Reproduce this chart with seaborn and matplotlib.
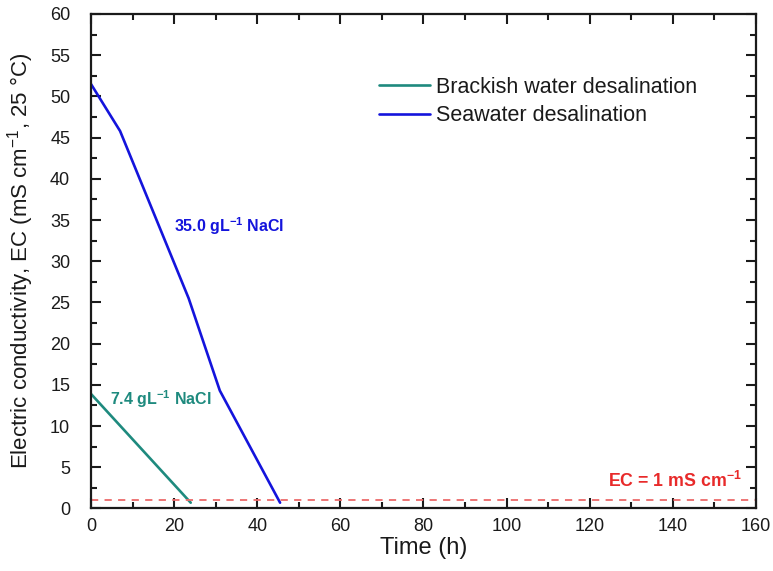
import matplotlib
matplotlib.use("Agg")
import matplotlib.pyplot as plt
from matplotlib.ticker import MultipleLocator
import pandas as pd
import seaborn as sns

# Desalination runs: conductivity over time
brackish_time = [0, 24]
brackish_ec = [13.9, 0.7]
seawater_time = [0, 7, 23.5, 31, 45.5]
seawater_ec = [51.5, 45.8, 25.5, 14.3, 0.7]
series_names = ["Brackish water desalination", "Seawater desalination"]
ec_limit = 1.0

df = pd.concat([
    pd.DataFrame({"time": brackish_time, "ec": brackish_ec, "run": series_names[0]}),
    pd.DataFrame({"time": seawater_time, "ec": seawater_ec, "run": series_names[1]}),
], ignore_index=True)

sns.set_theme(style="ticks")
plt.rcParams["font.family"] = ["Liberation Sans", "DejaVu Sans"]
plt.rcParams["mathtext.fontset"] = "custom"
plt.rcParams["mathtext.rm"] = "Liberation Sans"
plt.rcParams["mathtext.bf"] = "Liberation Sans:bold"

fig = plt.figure(figsize=(7.73, 5.71), dpi=100)
ax = fig.add_axes([0.1177, 0.1095, 0.8603, 0.8660])

teal = "#1e8a7e"
blue = "#1414dc"
palette = {series_names[0]: teal, series_names[1]: blue}
sns.lineplot(data=df, x="time", y="ec", hue="run", palette=palette,
             linewidth=1.9, ax=ax, sort=False, estimator=None)

ax.axhline(ec_limit, color="#ec6a6a", linestyle=(0, (4, 3.5)), linewidth=1.3)

ax.set_xlim(0, 160)
ax.set_ylim(0, 60)
ax.xaxis.set_major_locator(MultipleLocator(20))
ax.xaxis.set_minor_locator(MultipleLocator(10))
ax.yaxis.set_major_locator(MultipleLocator(5))
ax.yaxis.set_minor_locator(MultipleLocator(2.5))
ax.tick_params(which="both", direction="in", top=True, right=True,
               labelsize=13, colors="#1a1a1a")
ax.tick_params(axis="x", which="major", pad=7)
ax.tick_params(axis="y", which="major", pad=15)
ax.tick_params(which="major", length=7, width=1.5)
ax.tick_params(which="minor", length=4, width=1.5)
for s in ax.spines.values():
    s.set_visible(True)
    s.set_linewidth(1.6)
    s.set_color("#1a1a1a")

ax.set_xlabel("Time (h)", fontsize=17, color="#1a1a1a")
ax.set_ylabel(r"Electric conductivity, EC (mS cm$^{-1}$, 25 °C)", fontsize=16,
              color="#1a1a1a")
ax.xaxis.set_label_coords(0.5, -0.058)
ax.yaxis.set_label_coords(-0.082, 0.5)

ax.text(19.9, 34.3, r"35.0 gL$^{\mathbf{-1}}$ NaCl", color=blue,
        fontsize=11.5, fontweight="bold", va="center", ha="left")
ax.text(4.5, 13.3, r"7.4 gL$^{\mathbf{-1}}$ NaCl", color=teal,
        fontsize=11.5, fontweight="bold", va="center", ha="left")
ax.text(156.5, 3.3, r"EC = 1 mS cm$^{\mathbf{-1}}$", color="#e82a2a",
        fontsize=12.8, fontweight="bold", va="center", ha="right")

leg = ax.legend(loc="upper left", bbox_to_anchor=(0.4195, 0.89), frameon=False,
                fontsize=15.5, handlelength=2.4, handletextpad=0.25,
                labelspacing=0.34, borderaxespad=0)
for line in leg.get_lines():
    line.set_linewidth(1.9)
for t in leg.get_texts():
    t.set_color("#1a1a1a")

fig.savefig("out.png", dpi=100)
